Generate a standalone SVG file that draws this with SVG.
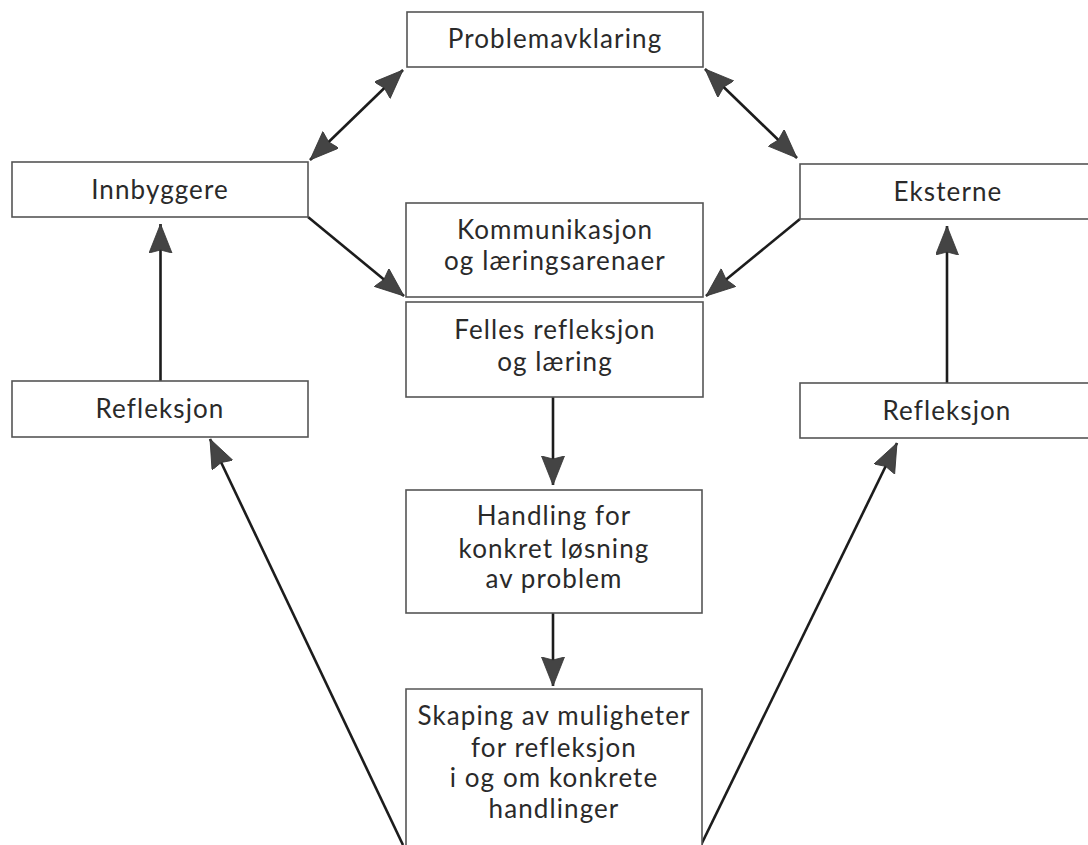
<svg xmlns="http://www.w3.org/2000/svg" width="1088" height="845" viewBox="0 0 1088 845">
<style>
.box{fill:#fff;stroke:#555;stroke-width:1.6}
.t{font-family:Lato,"Open Sans",sans-serif;font-size:26px;fill:#2a2a2a;text-anchor:middle;letter-spacing:1.1px}
.c{stroke:#1c1c1c;stroke-width:2.6;fill:none}
.a{marker-end:url(#ah)}
.b{marker-start:url(#ah);marker-end:url(#ah)}
</style>
<defs>
<marker id="ah" markerUnits="userSpaceOnUse" markerWidth="31" markerHeight="24" refX="29" refY="11.5" orient="auto-start-reverse" viewBox="0 0 31 24">
<path d="M0,0 L29,11.5 L0,23 L3,11.5 z" fill="#444" stroke="#333" stroke-width="0.8"/>
</marker>
</defs>
<rect width="1088" height="845" fill="#fff"/>
<g id="connectors">
<line class="c b" x1="403" y1="70" x2="310" y2="160"/>
<line class="c b" x1="705" y1="69" x2="797" y2="158"/>
<line class="c a" x1="308" y1="217" x2="404" y2="296"/>
<line class="c a" x1="800" y1="219" x2="706" y2="296"/>
<line class="c a" x1="160.5" y1="381" x2="160.5" y2="224"/>
<line class="c a" x1="947" y1="383" x2="947" y2="226"/>
<line class="c a" x1="553" y1="397" x2="553" y2="485"/>
<line class="c a" x1="553" y1="613" x2="553" y2="686"/>
<line class="c a" x1="403" y1="845" x2="210" y2="439"/>
<line class="c a" x1="701" y1="845" x2="897" y2="443"/>
</g>
<g id="problemavklaring">
<rect class="box" x="407" y="12" width="296" height="55"/>
<text class="t" x="555" y="48">Problemavklaring</text>
</g>
<g id="innbyggere">
<rect class="box" x="12" y="162" width="296" height="55"/>
<text class="t" x="160" y="199">Innbyggere</text>
</g>
<g id="eksterne">
<rect class="box" x="800" y="164" width="296" height="55"/>
<text class="t" x="948" y="201">Eksterne</text>
</g>
<g id="kommunikasjon">
<rect class="box" x="406" y="203" width="297" height="94"/>
<text class="t" x="555" y="239">Kommunikasjon</text>
<text class="t" x="555" y="270">og læringsarenaer</text>
</g>
<g id="felles">
<rect class="box" x="406" y="302" width="297" height="95"/>
<text class="t" x="555" y="339">Felles refleksjon</text>
<text class="t" x="555" y="371">og læring</text>
</g>
<g id="refleksjon-venstre">
<rect class="box" x="12" y="381" width="296" height="56"/>
<text class="t" x="160" y="418">Refleksjon</text>
</g>
<g id="refleksjon-hoyre">
<rect class="box" x="800" y="383" width="296" height="55"/>
<text class="t" x="947" y="420">Refleksjon</text>
</g>
<g id="handling">
<rect class="box" x="406" y="490" width="296" height="123"/>
<text class="t" x="554" y="525">Handling for</text>
<text class="t" x="554" y="558">konkret løsning</text>
<text class="t" x="554" y="588">av problem</text>
</g>
<g id="skaping">
<path class="box" d="M406,848 L406,689 L702,689 L702,848"/>
<text class="t" x="554" y="725">Skaping av muligheter</text>
<text class="t" x="554" y="757">for refleksjon</text>
<text class="t" x="554" y="787">i og om konkrete</text>
<text class="t" x="554" y="818">handlinger</text>
</g>
</svg>
